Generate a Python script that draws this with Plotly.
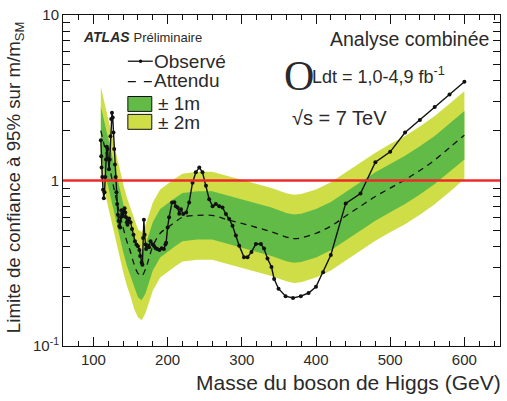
import plotly.graph_objects as go

# ---------------- data ----------------
exp_mass = [110, 115, 120, 125, 130, 135, 140, 145, 150, 155, 160, 165, 170, 175, 180, 190, 200, 210, 220,
            240, 260, 280, 300, 320, 340, 360, 370, 380, 400, 420, 440, 460, 480, 500, 520, 540, 560, 580, 600]
exp_val = [2.0, 1.6, 1.3, 1.02, 0.8, 0.64, 0.52, 0.43, 0.37, 0.31, 0.275, 0.265, 0.29, 0.34, 0.40, 0.48, 0.52, 0.56, 0.60,
           0.615, 0.615, 0.58, 0.55, 0.52, 0.49, 0.455, 0.445, 0.45, 0.48, 0.53, 0.61, 0.70, 0.80, 0.90, 1.01, 1.15, 1.33, 1.58, 1.88]
band2_up = [3.68, 2.94, 2.39, 1.88, 1.47, 1.18, 0.957, 0.791, 0.681, 0.57, 0.506, 0.488, 0.534, 0.626, 0.736, 0.883, 0.957, 1.03, 1.10,
            1.13, 1.13, 1.07, 1.01, 0.957, 0.902, 0.837, 0.819, 0.828, 0.883, 0.975, 1.12, 1.29, 1.47, 1.66, 1.86, 2.12, 2.45, 2.91, 3.46]
band1_up = [2.80, 2.24, 1.82, 1.43, 1.12, 0.896, 0.728, 0.602, 0.518, 0.434, 0.385, 0.371, 0.406, 0.476, 0.56, 0.672, 0.728, 0.784, 0.84,
            0.861, 0.861, 0.812, 0.77, 0.728, 0.686, 0.637, 0.623, 0.63, 0.672, 0.742, 0.854, 0.98, 1.12, 1.26, 1.41, 1.61, 1.86, 2.21, 2.63]
band1_dn = [1.43, 1.14, 0.93, 0.729, 0.572, 0.458, 0.372, 0.307, 0.265, 0.222, 0.197, 0.189, 0.207, 0.243, 0.286, 0.343, 0.372, 0.40, 0.429,
            0.44, 0.44, 0.415, 0.393, 0.372, 0.35, 0.325, 0.318, 0.322, 0.343, 0.379, 0.436, 0.50, 0.572, 0.644, 0.722, 0.822, 0.951, 1.13, 1.34]
band2_dn = [1.08, 0.864, 0.702, 0.551, 0.432, 0.346, 0.281, 0.232, 0.20, 0.167, 0.149, 0.143, 0.157, 0.184, 0.216, 0.259, 0.281, 0.302, 0.324,
            0.332, 0.332, 0.313, 0.297, 0.281, 0.265, 0.246, 0.24, 0.243, 0.259, 0.286, 0.329, 0.378, 0.432, 0.486, 0.545, 0.621, 0.718, 0.853, 1.02]

obs_mass = [110, 110.5, 111, 112, 113, 114, 115, 116, 117, 118, 119, 120, 121, 122, 123, 124, 125, 126, 127, 128, 129, 130,
            131, 132, 133, 134, 135, 136, 137, 138, 139, 140, 141, 142, 143, 144, 145, 146, 147, 148, 150, 152, 154, 156, 158,
            160, 162, 163, 165, 166, 167, 168, 169, 170, 171, 173, 175, 177, 180, 182, 184, 186, 189, 192, 195, 197, 198,
            200, 202, 206, 209, 211, 213.5, 215.7, 218, 221, 225, 229, 233.6, 238, 242.7, 247, 251.7, 256, 260.6, 265,
            269.6, 274, 278.6, 283, 287.5, 292, 296.5, 303, 307.7, 313, 319, 325.7, 330, 334.6, 340, 343.6, 349.5, 359,
            369, 379.5, 390, 400, 409.6, 420, 440, 460, 480, 500, 520, 540, 560, 580, 600]
obs_val = [1.75, 1.40, 1.2, 1.05, 0.88, 0.78, 0.85, 1.05, 1.34, 1.6, 1.55, 1.35, 1.17, 1.34, 1.85, 2.35, 2.57, 2.4, 1.95, 1.55, 1.25, 1.05,
           0.85, 0.72, 0.62, 0.57, 0.53, 0.52, 0.6, 0.66, 0.63, 0.61, 0.65, 0.68, 0.64, 0.6, 0.56, 0.54, 0.57, 0.59, 0.56, 0.51, 0.47, 0.43, 0.41,
           0.40, 0.38, 0.35, 0.32, 0.31, 0.45, 0.58, 0.47, 0.41, 0.385, 0.405, 0.395, 0.43, 0.41, 0.40, 0.39, 0.385, 0.38, 0.39, 0.385, 0.41, 0.42,
           0.52, 0.60, 0.737, 0.74, 0.70, 0.687, 0.63, 0.67, 0.627, 0.64, 0.737, 0.97, 1.12, 1.2, 1.12, 0.93, 0.77, 0.70, 0.72,
           0.70, 0.687, 0.627, 0.585, 0.533, 0.465, 0.404, 0.344, 0.344, 0.37, 0.413, 0.413, 0.388, 0.338, 0.30, 0.254, 0.222, 0.20,
           0.195, 0.20, 0.209, 0.228, 0.279, 0.355, 0.727, 0.835, 1.29, 1.49, 1.95, 2.32, 2.78, 3.31, 3.95]

x_tick_vals = [100, 200, 300, 400, 500, 600]
y_tick_vals = [0.1, 1, 10]
y_tick_text = ["10<sup>-1</sup>", "1", "10"]

GREEN = "#62bb47"
YELLOW = "#cfde47"
RED = "#ee2a2a"
FONT = "Liberation Sans"
TXT = "#2a2a2a"

fig = go.Figure()
# yellow band
fig.add_trace(go.Scatter(x=exp_mass, y=band2_dn, mode="lines", line=dict(width=0), showlegend=False, hoverinfo="skip"))
fig.add_trace(go.Scatter(x=exp_mass, y=band2_up, mode="lines", line=dict(width=0), fill="tonexty",
                         fillcolor=YELLOW, showlegend=False, hoverinfo="skip"))
# green band
fig.add_trace(go.Scatter(x=exp_mass, y=band1_dn, mode="lines", line=dict(width=0), showlegend=False, hoverinfo="skip"))
fig.add_trace(go.Scatter(x=exp_mass, y=band1_up, mode="lines", line=dict(width=0), fill="tonexty",
                         fillcolor=GREEN, showlegend=False, hoverinfo="skip"))
# expected
fig.add_trace(go.Scatter(x=exp_mass, y=exp_val, mode="lines", line=dict(color="#111", width=1.3, dash="6px,5px"),
                         line_shape="spline", showlegend=False))
# observed
fig.add_trace(go.Scatter(x=obs_mass, y=obs_val, mode="lines+markers", line=dict(color="#111", width=1.4),
                         marker=dict(color="#111", size=4), showlegend=False))

# red line at 1
fig.add_shape(type="line", xref="paper", x0=0, x1=1, yref="y", y0=1, y1=1, line=dict(color=RED, width=2.5))

# manual legend (paper coords)
def px(xp):
    return (xp - 63) / 438.0

def py(yp):
    return (346 - yp) / 333.0

fig.add_shape(type="line", xref="paper", yref="paper", x0=px(128), x1=px(153), y0=py(59.5), y1=py(59.5),
              line=dict(color="#111", width=1.3))
fig.add_shape(type="circle", xref="paper", yref="paper", x0=px(139), x1=px(142.5), y0=py(61.2), y1=py(57.8),
              fillcolor="#111", line=dict(color="#111", width=0))
fig.add_shape(type="line", xref="paper", yref="paper", x0=px(128), x1=px(152), y0=py(80), y1=py(80),
              line=dict(color="#111", width=1.3, dash="8px,8px"))
fig.add_shape(type="rect", xref="paper", yref="paper", x0=px(128), x1=px(152), y0=py(110), y1=py(95),
              fillcolor=GREEN, line=dict(color="#111", width=1))
fig.add_shape(type="rect", xref="paper", yref="paper", x0=px(128), x1=px(152), y0=py(128), y1=py(113),
              fillcolor=YELLOW, line=dict(color="#111", width=1))

def note(text, x, y, size=18, xanchor="left", family=FONT, **kw):
    fig.add_annotation(text=text, xref="paper", yref="paper", x=x, y=y, xanchor=xanchor, yanchor="middle",
                       showarrow=False, font=dict(size=size, family=family, color=TXT), **kw)

note("Observé", px(152), py(60), size=19)
note("Attendu", px(152), py(79), size=19)
note("± 1m", px(156), py(102), size=19)
note("± 2m", px(156), py(121), size=19)
note("<b><i>ATLAS</i></b> <span style='font-size:13px'>Préliminaire</span>", px(81), py(35), size=14)
note("Analyse combinée", px(492), py(37), size=19.5, xanchor="right")
note("O", px(283), py(74), size=42, family="Liberation Serif")
note("Ldt = 1,0-4,9 fb<sup>-1</sup>", px(311), py(74), size=18)
note("√s = 7 TeV", px(291), py(117), size=20)
# axis titles
note("Masse du boson de Higgs (GeV)", px(504), py(383), size=21, xanchor="right")
fig.add_annotation(text="Limite de confiance à 95% sur m/m<sub>SM</sub>", xref="paper", yref="paper",
                   x=px(15), y=py(176), xanchor="center", yanchor="middle", textangle=-90, showarrow=False,
                   font=dict(size=18.7, family=FONT, color=TXT))

fig.update_layout(
    width=507, height=401,
    margin=dict(l=63, r=6, t=13, b=55),
    paper_bgcolor="white", plot_bgcolor="white",
    font=dict(family=FONT, size=15, color=TXT),
)
fig.update_xaxes(range=[59, 648], showgrid=False, zeroline=False, showline=True, linecolor="#111", linewidth=1,
                 mirror="ticks", ticks="inside", ticklen=9, tickcolor="#111", tickvals=x_tick_vals,
                 tickfont=dict(size=15, family=FONT, color=TXT),
                 minor=dict(ticks="inside", ticklen=5, dtick=20, tick0=0, tickcolor="#111", showgrid=False))
fig.update_yaxes(type="log", range=[-1, 1], showgrid=False, zeroline=False, showline=True, linecolor="#111",
                 linewidth=1, mirror="ticks", ticks="inside", ticklen=12, tickcolor="#111",
                 tickvals=y_tick_vals, ticktext=y_tick_text, tickfont=dict(size=15, family=FONT, color=TXT),
                 minor=dict(ticks="inside", ticklen=7, tickcolor="#111", showgrid=False,
                            tickvals=[0.2, 0.3, 0.4, 0.5, 0.6, 0.7, 0.8, 0.9, 2, 3, 4, 5, 6, 7, 8, 9]))

fig.write_html("out.html")
